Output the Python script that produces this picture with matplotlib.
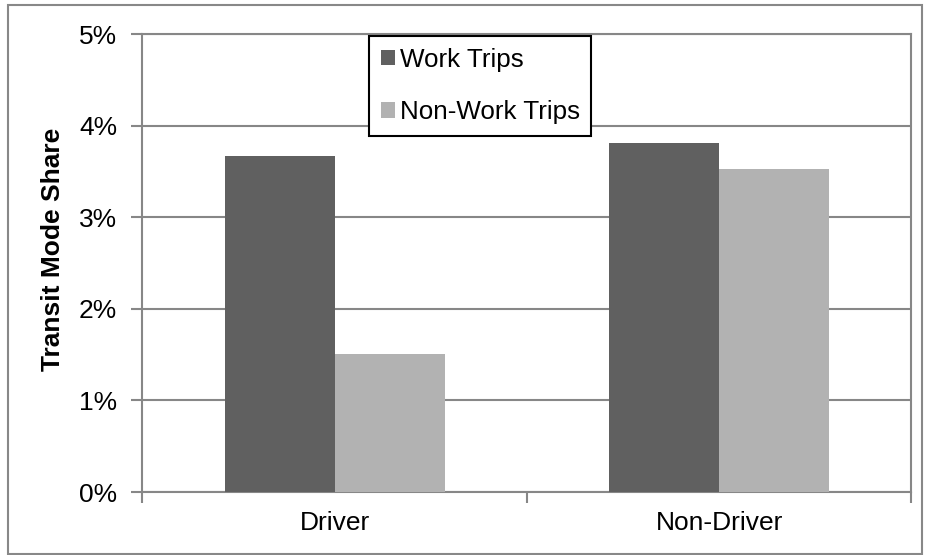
import matplotlib.pyplot as plt
import numpy as np
from matplotlib.patches import Rectangle
from matplotlib.ticker import FuncFormatter

plt.rcParams['font.family'] = ['Liberation Sans', 'DejaVu Sans']

categories = ['Driver', 'Non-Driver']
work_trips = [3.67, 3.81]
nonwork_trips = [1.51, 3.53]
yticks = [0, 1, 2, 3, 4, 5]

dark = '#606060'
light = '#b2b2b2'
grid_col = '#878787'

fig = plt.figure(figsize=(9.3, 5.55), dpi=100)
ax = fig.add_axes([0.153, 0.1135, 0.827, 0.8245])

x = np.arange(len(categories))
w = 0.286
ax.bar(x - w / 2, work_trips, w, color=dark, label='Work Trips', zorder=3)
ax.bar(x + w / 2, nonwork_trips, w, color=light, label='Non-Work Trips', zorder=3)

ax.set_xlim(-0.5, 1.5)
ax.set_ylim(0, 5)
ax.set_yticks(yticks)
ax.yaxis.set_major_formatter(FuncFormatter(lambda v, p: '%d%%' % v))
ax.grid(axis='y', color=grid_col, linewidth=1.5, zorder=0)

# category labels in the middle, ticks on the boundaries
ax.set_xticks([-0.5, 0.5, 1.5])
ax.set_xticklabels([])
ax.set_xticks(x, minor=True)
ax.set_xticklabels(categories, minor=True)
ax.tick_params(axis='x', which='minor', length=0, pad=14, labelsize=19)
ax.tick_params(axis='x', which='major', length=8, width=1.5, color=grid_col)
ax.tick_params(axis='y', length=8, width=1.5, color=grid_col, pad=10, labelsize=19)

for s in ax.spines.values():
    s.set_color(grid_col)
    s.set_linewidth(1.5)

ax.set_ylabel('Transit Mode Share', fontsize=19, fontweight='bold')
ax.yaxis.set_label_coords(-0.100, 0.53)

leg = ax.legend(loc='upper left', bbox_to_anchor=(369 / 930, 1 - 36 / 555),
                bbox_transform=fig.transFigure, borderaxespad=0,
                fontsize=18.7, frameon=True, fancybox=False,
                handlelength=0.55, handleheight=0.55, handletextpad=0.18,
                labelspacing=1.1, borderpad=0.45)
leg.get_frame().set_edgecolor('black')
leg.get_frame().set_linewidth(1.5)
leg.get_frame().set_alpha(1)

# outer chart border
fig.patches.append(Rectangle((8 / 930, 1 / 555), 914 / 930, 549 / 555,
                             transform=fig.transFigure, fill=False,
                             edgecolor='#888888', linewidth=1.5))

fig.savefig('out.png', dpi=100)
